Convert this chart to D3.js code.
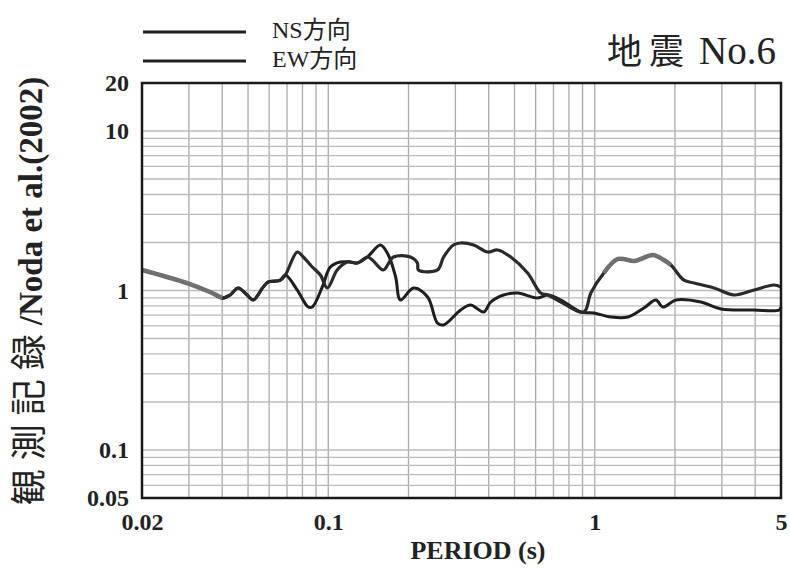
<!DOCTYPE html>
<html>
<head>
<meta charset="utf-8">
<script src="https://cdn.jsdelivr.net/npm/d3@7"></script>
<style>
  body { margin: 0; background: #fff; }
  text { font-family: "Liberation Serif", "Noto Sans CJK JP", serif; fill: #222; }
</style>
</head>
<body>
<div id="chart"></div>
<script>
// period (s) and ratio values
const periodNS = [0.02, 0.0295, 0.036, 0.04, 0.0428, 0.0459, 0.0496, 0.0523, 0.057, 0.0595, 0.066, 0.069,
  0.0765, 0.0806, 0.0871, 0.0934, 0.0992, 0.108, 0.118, 0.1287, 0.1403, 0.1464, 0.161, 0.1757, 0.2035,
  0.216, 0.2181, 0.257, 0.271, 0.295, 0.314, 0.351, 0.396, 0.432, 0.484, 0.56, 0.627, 0.666, 0.746,
  0.91, 0.967, 1.082, 1.221, 1.403, 1.49, 1.654, 1.818, 1.932, 2.162, 2.358, 2.804, 3.334, 3.964, 4.71, 5.0];
const ratioNS = [1.345, 1.114, 0.978, 0.897, 0.937, 1.037, 0.937, 0.872, 1.052, 1.13, 1.16, 1.25,
  1.743, 1.622, 1.404, 1.25, 1.037, 1.345, 1.509, 1.487, 1.622, 1.553, 1.345, 1.622, 1.622,
  1.487, 1.345, 1.345, 1.622, 1.929, 1.985, 1.929, 1.743, 1.795, 1.622, 1.287, 0.964, 0.937, 0.847,
  0.733, 0.964, 1.287, 1.576, 1.531, 1.576, 1.67, 1.553, 1.445, 1.16, 1.114, 1.037, 0.937, 1.007, 1.083, 1.052];

const periodEW = [0.02, 0.0295, 0.036, 0.04, 0.0428, 0.0459, 0.0496, 0.0523, 0.057, 0.0595, 0.066, 0.069,
  0.0765, 0.0841, 0.0871, 0.095, 0.1018, 0.111, 0.121, 0.1287, 0.1403, 0.157, 0.168, 0.179, 0.1866,
  0.209, 0.236, 0.257, 0.271, 0.314, 0.342, 0.383, 0.407, 0.455, 0.514, 0.611, 0.666, 0.746, 0.887,
  0.992, 1.149, 1.332, 1.53, 1.697, 1.803, 2.018, 2.504, 2.978, 3.964, 4.92, 5.0];
const ratioEW = [1.345, 1.114, 0.978, 0.897, 0.937, 1.037, 0.937, 0.872, 1.052, 1.13, 1.16, 1.25,
  1.007, 0.788, 0.788, 1.052, 1.404, 1.509, 1.509, 1.487, 1.622, 1.929, 1.67, 1.215, 0.872,
  1.037, 0.91, 0.625, 0.608, 0.755, 0.811, 0.733, 0.847, 0.937, 0.964, 0.897, 0.937, 0.872, 0.733,
  0.723, 0.682, 0.682, 0.777, 0.872, 0.788, 0.872, 0.847, 0.766, 0.755, 0.755, 0.788];

const xTicks = [0.02, 0.1, 1, 5];
const xTickLabels = ["0.02", "0.1", "1", "5"];
const yTicks = [0.05, 0.1, 1, 10, 20];
const yTickLabels = ["0.05", "0.1", "1", "10", "20"];
const legendNames = ["NS方向", "EW方向"];

const W = 790, H = 569;
const margin = {top: 83, right: 9, bottom: 71, left: 142};
const width = W - margin.left - margin.right,
    height = H - margin.top - margin.bottom;

const svg = d3.select("#chart").append("svg")
  .attr("width", W).attr("height", H);

const g = svg.append("g")
  .attr("transform", `translate(${margin.left}, ${margin.top})`);

const x = d3.scaleLog().domain([0.02, 5]).range([0, width]);
const y = d3.scaleLog().domain([0.05, 20]).range([height, 0]);

// grid lines (minor log lines)
const xGrid = [];
[0.01, 0.1, 1].forEach(function(dec) {
  for (let k = 1; k <= 9; k++) {
    const v = +(dec * k).toPrecision(3);
    if (v > 0.02 && v < 5) xGrid.push(v);
  }
});
const yGrid = [];
[0.01, 0.1, 1, 10].forEach(function(dec) {
  for (let k = 1; k <= 9; k++) {
    const v = +(dec * k).toPrecision(3);
    if (v > 0.05 && v <= 10) yGrid.push(v);
  }
});

g.append("g").selectAll("line").data(xGrid).join("line")
  .attr("x1", d => x(d)).attr("x2", d => x(d))
  .attr("y1", 0).attr("y2", height)
  .attr("stroke", "#aaaaaa").attr("stroke-width", 1.3);

g.append("g").selectAll("line").data(yGrid).join("line")
  .attr("x1", 0).attr("x2", width)
  .attr("y1", d => y(d)).attr("y2", d => y(d))
  .attr("stroke", "#bbbbbb").attr("stroke-width", 1.3);

// curves
const line = d3.line()
  .x(d => x(d[0]))
  .y(d => y(d[1]))
  .curve(d3.curveCatmullRom.alpha(0.5));

const seriesNS = periodNS.map((p, i) => [p, ratioNS[i]]);
const seriesEW = periodEW.map((p, i) => [p, ratioEW[i]]);

g.append("path").datum(seriesEW)
  .attr("fill", "none").attr("stroke", "#1e1e1e").attr("stroke-width", 3)
  .attr("d", line);
g.append("path").datum(seriesNS)
  .attr("fill", "none").attr("stroke", "#2a2a2a").attr("stroke-width", 3.2)
  .attr("d", line);

// the faded (grey) stretches of the scanned NS curve
[[0.02, 0.042], [1.05, 2.0]].forEach(function(r) {
  g.append("path").datum(seriesNS.filter(d => d[0] >= r[0] && d[0] <= r[1]))
    .attr("fill", "none").attr("stroke", "#707070").attr("stroke-width", 4.5)
    .attr("d", line);
});

// frame
g.append("rect")
  .attr("x", 0).attr("y", 0).attr("width", width).attr("height", height)
  .attr("fill", "none").attr("stroke", "#1a1a1a").attr("stroke-width", 2.5);

// axes (labels only)
const xAxis = g.append("g")
  .attr("transform", `translate(0, ${height})`)
  .call(d3.axisBottom(x).tickValues(xTicks).tickSize(0)
    .tickFormat((d, i) => xTickLabels[i]));
xAxis.select(".domain").remove();
xAxis.selectAll("text")
  .attr("dy", 0).attr("y", 32)
  .style("font-size", "24px").style("font-weight", "bold");

const yAxis = g.append("g")
  .call(d3.axisLeft(y).tickValues(yTicks).tickSize(0)
    .tickFormat((d, i) => yTickLabels[i]));
yAxis.select(".domain").remove();
yAxis.selectAll("text")
  .attr("x", -13).attr("dy", "0.32em")
  .style("font-size", "24px").style("font-weight", "bold");

// axis titles
svg.append("text")
  .attr("x", 478).attr("y", 559)
  .attr("text-anchor", "middle")
  .style("font-size", "26px").style("font-weight", "bold")
  .text("PERIOD (s)");

const yTitle = svg.append("text")
  .attr("transform", "translate(42, 291) rotate(-90)")
  .attr("text-anchor", "middle");
yTitle.append("tspan")
  .style("font-size", "36px").style("letter-spacing", "9px")
  .text("観測記録");
yTitle.append("tspan")
  .style("font-size", "33px").style("font-weight", "bold")
  .text("/Noda et al.(2002)");

// legend
legendNames.forEach(function(name, i) {
  const ly = 32 + i * 29;
  svg.append("line")
    .attr("x1", 143).attr("x2", 246)
    .attr("y1", ly).attr("y2", ly)
    .attr("stroke", "#222").attr("stroke-width", 3);
  svg.append("text")
    .attr("x", 272).attr("y", ly + 6)
    .style("font-size", "24px")
    .text(name);
});

const title = svg.append("text")
  .attr("x", 776).attr("y", 64)
  .attr("text-anchor", "end");
title.append("tspan")
  .style("font-size", "35px").style("letter-spacing", "7px")
  .text("地震");
title.append("tspan")
  .attr("dx", 8)
  .style("font-size", "39px")
  .text("No.6");
</script>
</body>
</html>
